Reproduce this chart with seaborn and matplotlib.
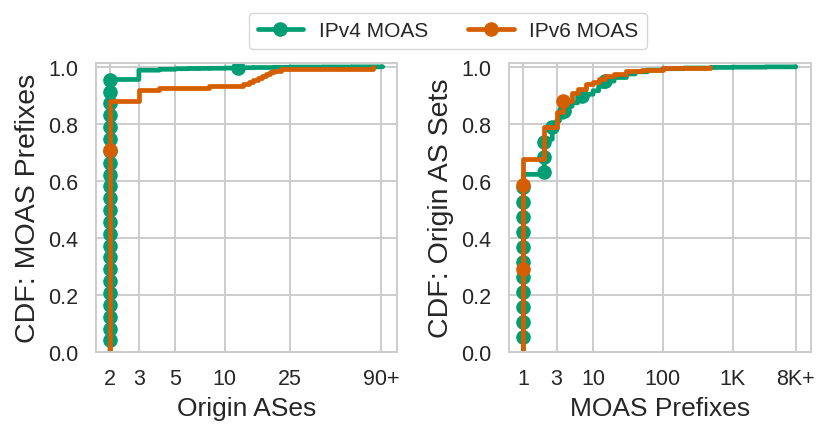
import numpy as np
import pandas as pd
import matplotlib
matplotlib.use("Agg")
import matplotlib.pyplot as plt
import seaborn as sns
from matplotlib.ticker import FixedLocator, FixedFormatter, NullLocator

# ---------------- data ----------------
series_names = ["IPv4 MOAS", "IPv6 MOAS"]
series_colors = ["#029e73", "#d55e00"]

# Left panel: number of origin ASes per MOAS prefix
left_v4_values = [2, 3, 4, 5, 6, 7, 8, 10, 12, 15, 20, 25, 40, 60, 92]
left_v4_counts = [2440, 83, 8, 5, 2, 1, 1, 2, 3, 2, 2, 2, 1, 1, 1]
left_v6_values = [2, 3, 4, 8, 13, 14, 15, 16, 17, 18, 19, 20, 22, 80]
left_v6_counts = [132, 6, 1, 1, 1, 1, 1, 1, 1, 1, 1, 1, 1, 1]

# Right panel: number of MOAS prefixes per origin AS set
right_v4_values = [1, 2, 2.6, 3, 3.3, 3.8, 4.5, 5, 6, 7, 8, 10, 12, 15, 20,
                   30, 40, 60, 100, 200, 500, 1000, 3000, 8000]
right_v4_counts = [1253, 247, 90, 40, 25, 42, 35, 25, 25, 20, 15, 25, 30, 38,
                   25, 25, 15, 12, 10, 5, 4, 2, 2, 1]
right_v6_values = [1, 2, 3, 3.7, 5, 6, 8, 10, 12, 15, 20, 30, 50, 100, 200, 480]
right_v6_counts = [245, 41, 19, 14, 10, 5, 6, 3, 4, 3, 3, 3, 2, 2, 1, 1]

left_ticks = [2, 3, 5, 10, 25, 90]
left_ticklabels = ["2", "3", "5", "10", "25", "90+"]
right_ticks = [1, 3, 10, 100, 1000, 8000]
right_ticklabels = ["1", "3", "10", "100", "1K", "8K+"]
y_ticks = [0.0, 0.2, 0.4, 0.6, 0.8, 1.0]

# ---------------- style ----------------
sns.set_theme(style="whitegrid")
plt.rcParams["font.family"] = ["Liberation Sans", "DejaVu Sans"]
plt.rcParams.update({
    "grid.color": "#cccccc",
    "grid.linewidth": 1.4,
    "axes.edgecolor": "#cccccc",
    "axes.linewidth": 1.4,
})

fig = plt.figure(figsize=(8.3, 4.39), dpi=100)
ax_l = fig.add_axes([0.1157, 0.1952, 0.3630, 0.6590])
ax_r = fig.add_axes([0.6136, 0.1952, 0.3635, 0.6590])


def expand(values, counts):
    return np.repeat(np.asarray(values, dtype=float), counts)


panels = [
    (ax_l, [(left_v4_values, left_v4_counts), (left_v6_values, left_v6_counts)],
     left_ticks, left_ticklabels, (1.644, 113), "Origin ASes", "CDF: MOAS Prefixes"),
    (ax_r, [(right_v4_values, right_v4_counts), (right_v6_values, right_v6_counts)],
     right_ticks, right_ticklabels, (0.63, 13240), "MOAS Prefixes", "CDF: Origin AS Sets"),
]

for ax, data_list, ticks, ticklabels, xlim, xlabel, ylabel in panels:
    for (vals, cnts), name, col in zip(data_list, series_names, series_colors):
        df = pd.DataFrame({"value": expand(vals, cnts)})
        sns.ecdfplot(data=df, x="value", ax=ax, log_scale=True, color=col,
                     label=name, linewidth=3.4, marker="o", markersize=9.5,
                     markevery=106, solid_capstyle="round")
    ax.set_xlim(*xlim)
    ax.set_ylim(0, 1.013)
    ax.xaxis.set_major_locator(FixedLocator(ticks))
    ax.xaxis.set_major_formatter(FixedFormatter(ticklabels))
    ax.xaxis.set_minor_locator(NullLocator())
    ax.set_yticks(y_ticks)
    ax.tick_params(axis="x", labelsize=15.5, pad=11, length=0, colors="#262626")
    ax.tick_params(axis="y", labelsize=15.5, pad=13, length=0, colors="#262626")
    ax.set_xlabel(xlabel, fontsize=19, color="#262626", labelpad=5)
    ax.set_ylabel(ylabel, fontsize=20.5, color="#262626", labelpad=5)
    ax.grid(True, which="major")

handles, labels = ax_l.get_legend_handles_labels()
fig.legend(handles, labels, loc="center", bbox_to_anchor=(448 / 830, 1 - 31.8 / 439),
           ncol=2, frameon=True, fontsize=15, handlelength=2.2, columnspacing=1.9,
           handletextpad=0.75, edgecolor="#cccccc", fancybox=True)

fig.savefig("out.png", dpi=100)
